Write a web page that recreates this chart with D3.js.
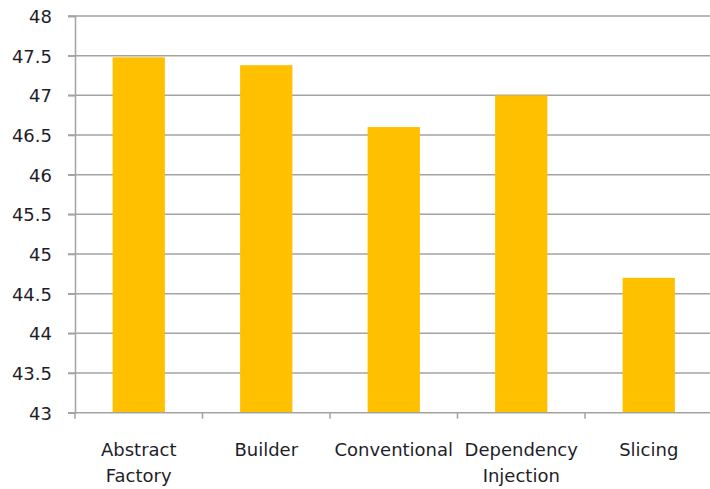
<!DOCTYPE html>
<html>
<head>
<meta charset="utf-8">
<script src="https://cdn.jsdelivr.net/npm/d3@7"></script>
<style>
  html, body { margin: 0; padding: 0; background: #fff; }
  svg { display: block; }
  text { font-family: "DejaVu Sans", sans-serif; font-size: 18px; fill: #1e1e2a; }
</style>
</head>
<body>
<script>
// Category names (each array entry is one line of the label)
const categories = [
  ["Abstract", "Factory"],
  ["Builder"],
  ["Conventional"],
  ["Dependency", "Injection"],
  ["Slicing"]
];
const values = [47.48, 47.38, 46.6, 47.0, 44.7];
const yTicks = [43, 43.5, 44, 44.5, 45, 45.5, 46, 46.5, 47, 47.5, 48];

const width = 710, height = 489;
const plotLeft = 75, plotRight = 712.5, plotTop = 16, plotBottom = 412.7;

const svg = d3.select("body").append("svg")
  .attr("width", width)
  .attr("height", height);

const keys = categories.map(c => c.join(" "));

const x = d3.scaleBand()
  .domain(keys)
  .range([plotLeft, plotRight])
  .paddingInner(0.59)
  .paddingOuter(0.295);

const y = d3.scaleLinear()
  .domain([43, 48])
  .range([plotBottom, plotTop]);

const gridColor = "#a3a3a3";

// Horizontal gridlines with short outer ticks on the left
svg.append("g")
  .selectAll("line")
  .data(yTicks.filter(t => t > 43))
  .join("line")
  .attr("x1", plotLeft - 7)
  .attr("x2", width)
  .attr("y1", d => y(d))
  .attr("y2", d => y(d))
  .attr("stroke", gridColor)
  .attr("stroke-width", 1.5);

// Bars
svg.append("g")
  .selectAll("rect")
  .data(values)
  .join("rect")
  .attr("x", (d, i) => x(keys[i]))
  .attr("width", x.bandwidth())
  .attr("y", d => y(d))
  .attr("height", d => y(43) - y(d))
  .attr("fill", "#ffc000");

// Y axis
const yAxis = svg.append("g")
  .attr("transform", `translate(${plotLeft},0)`)
  .call(d3.axisLeft(y).tickValues(yTicks).tickSize(7).tickPadding(16)
    .tickFormat(d => String(d)));
yAxis.select(".domain").attr("stroke", gridColor).attr("stroke-width", 1.5);
yAxis.selectAll(".tick line").attr("stroke", gridColor).attr("stroke-width", 1.5);
yAxis.selectAll(".tick text")
  .attr("font-family", null).attr("font-size", null)
  .attr("dy", "0.36em");
yAxis.attr("font-family", null).attr("font-size", null);

// X axis baseline and category separators
const step = x.step();
const xBase = svg.append("g");
xBase.append("line")
  .attr("x1", plotLeft - 7).attr("x2", width)
  .attr("y1", plotBottom).attr("y2", plotBottom)
  .attr("stroke", gridColor).attr("stroke-width", 1.5);
xBase.selectAll("line.sep")
  .data(d3.range(categories.length + 1))
  .join("line")
  .attr("class", "sep")
  .attr("x1", i => plotLeft + i * step)
  .attr("x2", i => plotLeft + i * step)
  .attr("y1", plotBottom)
  .attr("y2", plotBottom + 6)
  .attr("stroke", gridColor)
  .attr("stroke-width", 1.5);

// Category labels
const labels = svg.append("g")
  .selectAll("text")
  .data(categories)
  .join("text")
  .attr("text-anchor", "middle")
  .attr("x", (d, i) => x(keys[i]) + x.bandwidth() / 2)
  .attr("y", 456);
labels.selectAll("tspan")
  .data(d => d)
  .join("tspan")
  .attr("x", function() { return this.parentNode.getAttribute("x"); })
  .attr("dy", (d, i) => i === 0 ? 0 : 26)
  .text(d => d);
</script>
</body>
</html>
